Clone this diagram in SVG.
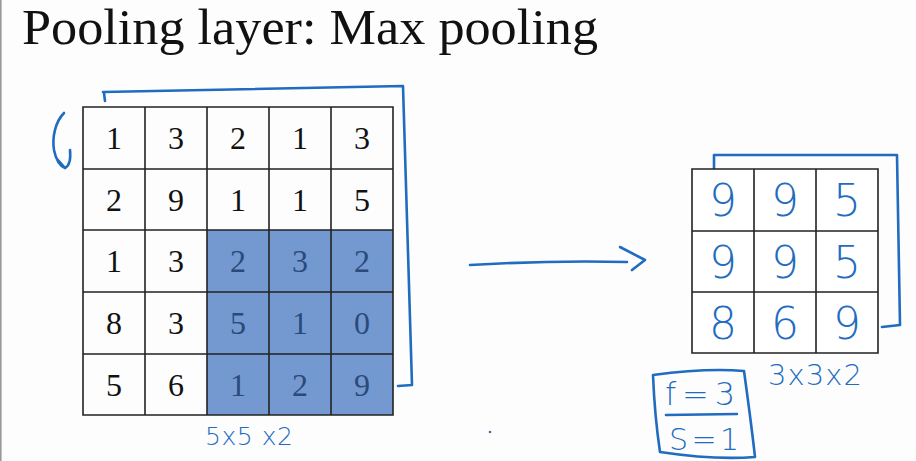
<svg xmlns="http://www.w3.org/2000/svg" width="916" height="461" viewBox="0 0 916 461">
<style>
.grid{fill:none;stroke:#222;stroke-width:1.6}
.num{font-family:"Liberation Serif",serif;font-size:32px;text-anchor:middle;fill:#111}
.numb{fill:#2b4a7c}
.ink{fill:none;stroke:#1f6cc0;stroke-width:2.6;stroke-linecap:round;stroke-linejoin:round}
.hand{font-family:"DejaVu Sans","Liberation Sans",sans-serif;font-weight:200;fill:#1f6cc0;text-anchor:middle}
</style>
<rect width="916" height="461" fill="#fdfdfd"/>
<line x1="0.8" y1="0" x2="0.8" y2="461" stroke="#999" stroke-width="1.6"/>
<text x="22" y="44" font-family="Liberation Serif,serif" font-size="51" textLength="576" lengthAdjust="spacingAndGlyphs" fill="#111">Pooling layer: Max pooling</text>

<g id="input-back-bracket">
<path class="ink" d="M103,92 C200,90 300,88 403,86 C406,180 409,280 412,385 L398,386"/>
<path class="ink" d="M104,93 L105,101" stroke-width="1.8"/>
</g>
<g id="rotate-mark">
<path class="ink" d="M64,113 C55,122 52,138 54,150 C56,160 60,166 65,168 C69,166 71,160 70,150 M65,168 L58,160"/>
</g>

<g id="input-grid">
<rect x="207" y="230" width="186" height="185" fill="#7399d0"/>
<path class="grid" d="M83,107H393V415H83Z M145,107V415 M207,107V415 M269,107V415 M331,107V415 M83,169H393 M83,230H393 M83,292H393 M83,354H393"/>
<g class="num">
<text x="114" y="149">1</text><text x="176" y="149">3</text><text x="238" y="149">2</text><text x="300" y="149">1</text><text x="362" y="149">3</text>
<text x="114" y="211">2</text><text x="176" y="211">9</text><text x="238" y="211">1</text><text x="300" y="211">1</text><text x="362" y="211">5</text>
<text x="114" y="272">1</text><text x="176" y="272">3</text><text x="238" y="272" class="numb">2</text><text x="300" y="272" class="numb">3</text><text x="362" y="272" class="numb">2</text>
<text x="114" y="334">8</text><text x="176" y="334">3</text><text x="238" y="334" class="numb">5</text><text x="300" y="334" class="numb">1</text><text x="362" y="334" class="numb">0</text>
<text x="114" y="396">5</text><text x="176" y="396">6</text><text x="238" y="396" class="numb">1</text><text x="300" y="396" class="numb">2</text><text x="362" y="396" class="numb">9</text>
</g>
</g>
<text id="input-size" class="hand" x="249" y="445" font-size="25" textLength="88" lengthAdjust="spacing">5x5 x2</text>
<circle cx="490" cy="432" r="1.3" fill="#3a6fb0"/>

<g id="connectors">
<path class="ink" d="M470,265 C520,262 580,261 627,262 M620,247 L645,260 L632,270"/>
</g>

<g id="output-back-bracket">
<path class="ink" d="M714,170 L714,155 L897,155 C898,210 899,270 900,325 L882,327"/>
</g>
<g id="output-grid">
<rect x="692" y="169" width="186" height="184" fill="#fff"/>
<path class="grid" d="M692,169H878V353H692Z M754,169V353 M816,169V353 M692,231H878 M692,292H878"/>
<g class="hand" font-size="44">
<text x="723" y="216">9</text><text x="785" y="216">9</text><text x="847" y="216">5</text>
<text x="723" y="278">9</text><text x="785" y="278">9</text><text x="847" y="278">5</text>
<text x="723" y="339">8</text><text x="785" y="339">6</text><text x="847" y="339">9</text>
</g>
</g>
<text id="output-size" class="hand" x="815" y="385" font-size="29" textLength="94" lengthAdjust="spacing">3x3x2</text>

<g id="hyperparams">
<path class="ink" d="M653,375 C690,370 720,369 744,371 C748,400 752,430 755,457 C730,459 700,458 660,452 C656,425 654,400 653,375 Z"/>
<text class="hand" x="700" y="405" font-size="32" textLength="70" lengthAdjust="spacing">f=3</text>
<path class="ink" d="M666,415 L737,414"/>
<text class="hand" x="704" y="450" font-size="30" textLength="70" lengthAdjust="spacing">S=1</text>
</g>
</svg>
